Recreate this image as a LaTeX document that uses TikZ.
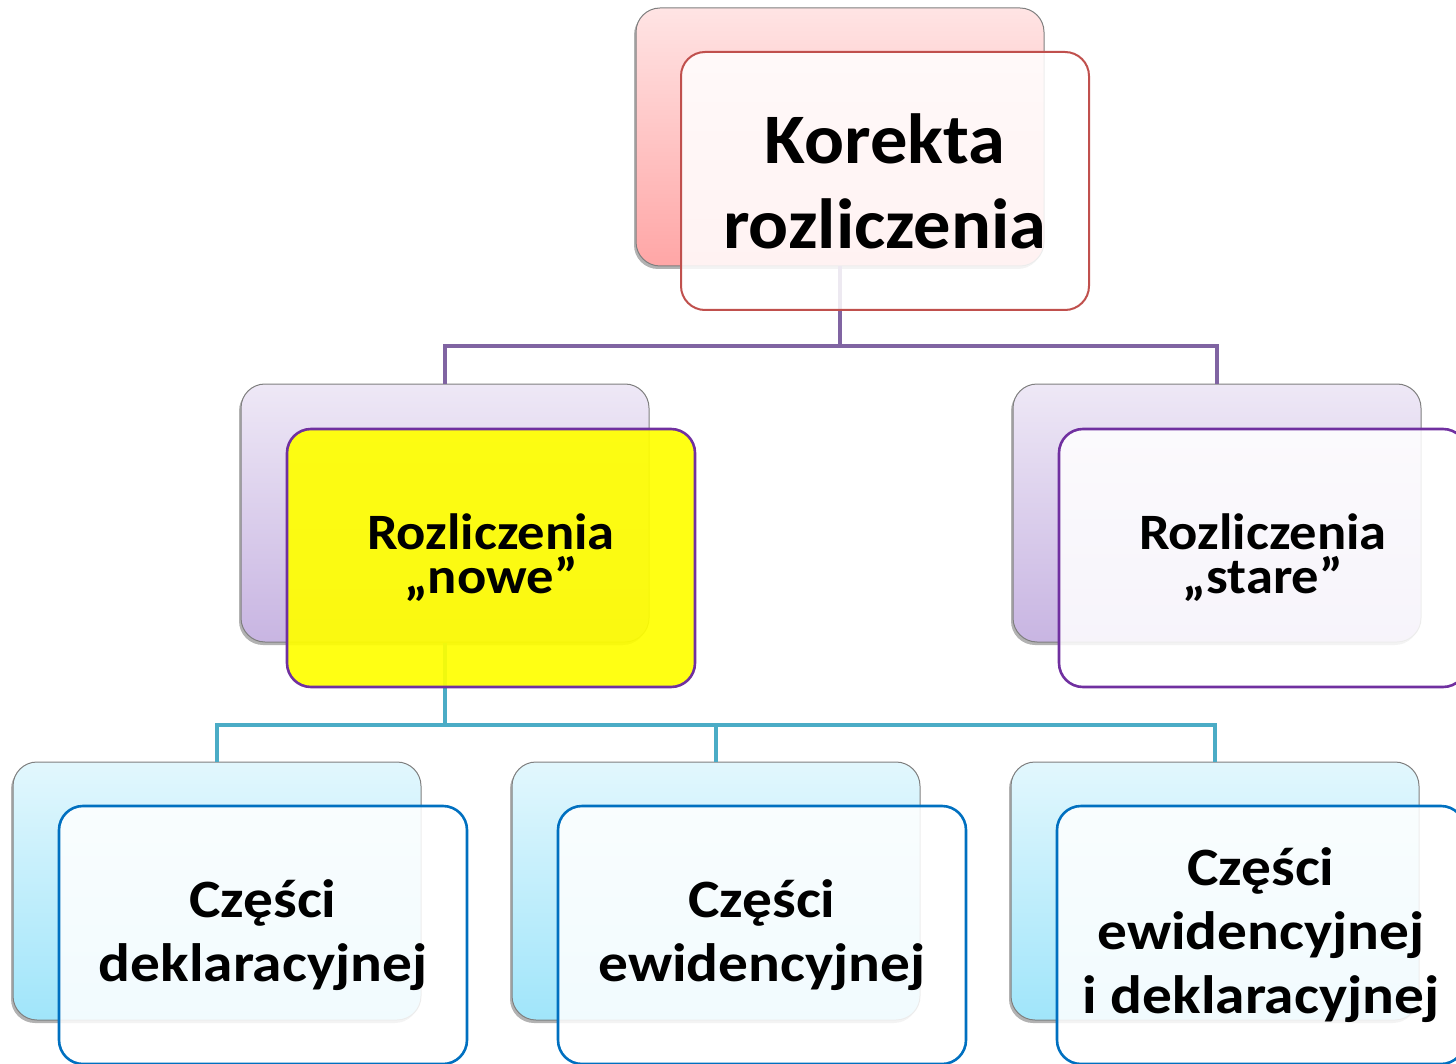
\documentclass[tikz,border=0pt]{standalone}
\usepackage{fontspec}
\setmainfont{Carlito}
\newfontfamily\stretchA[FakeStretch=1.05]{Carlito}
\newfontfamily\stretchB[FakeStretch=1.07]{Carlito}
\newfontfamily\stretchC[FakeStretch=1.10]{Carlito}
\usetikzlibrary{shadows}
\definecolor{redline}{HTML}{C0504D}
\definecolor{purpline}{HTML}{8064A2}
\definecolor{violetline}{HTML}{7030A0}
\definecolor{tealline}{HTML}{4BACC6}
\definecolor{blueline}{HTML}{0070C0}
\definecolor{pinktop}{HTML}{FFE4E4}
\definecolor{pinkbot}{HTML}{FFA6A6}
\definecolor{lavtop}{HTML}{EEE8F6}
\definecolor{lavbot}{HTML}{C8B5E2}
\definecolor{cyantop}{HTML}{E2F7FD}
\definecolor{cyanbot}{HTML}{A0E5FA}
\definecolor{boxgray}{HTML}{7F7F7F}
\definecolor{brightyellow}{HTML}{FFFF00}
\begin{document}
\begin{tikzpicture}[x=1pt,y=-1pt,
  backbox/.style={rectangle, rounded corners=24pt, minimum width=408pt, minimum height=258pt,
    inner sep=0pt, draw=boxgray, line width=1pt,
    drop shadow={shadow xshift=-2pt, shadow yshift=-3pt, opacity=0.3, fill=black}},
  frontbox/.style={rectangle, rounded corners=24pt, minimum width=408pt, minimum height=258pt,
    inner sep=0pt, line width=2.6pt, fill=white, fill opacity=0.86, text opacity=1,
    align=center},
  conn/.style={line width=4pt},
  bigfont/.style={font=\stretchA\fontsize{71}{85}\selectfont\bfseries},
  midfont/.style={font=\stretchB\fontsize{51}{44}\selectfont\bfseries},
  smallfont/.style={font=\stretchC\fontsize{54}{64}\selectfont\bfseries}
]
\useasboundingbox (0,0) rectangle (1456,1064);
\clip (0,0) rectangle (1456,1064);

% back boxes
\node[backbox, top color=pinktop, bottom color=pinkbot] (kb) at (840,137) {};
\node[backbox, top color=lavtop, bottom color=lavbot] (nb) at (445,513) {};
\node[backbox, top color=lavtop, bottom color=lavbot] (sb) at (1217,513) {};
\node[backbox, top color=cyantop, bottom color=cyanbot] (c1b) at (217,891) {};
\node[backbox, top color=cyantop, bottom color=cyanbot] (c2b) at (716,891) {};
\node[backbox, top color=cyantop, bottom color=cyanbot] (c3b) at (1215,891) {};

% connectors
\draw[conn, purpline] (kb.south) -- ++(0,80) coordinate (j1);
\draw[conn, purpline] (j1) -| (nb.north);
\draw[conn, purpline] (j1) -| (sb.north);
\draw[conn, tealline] (nb.south) -- ++(0,82) coordinate (j2);
\draw[conn, tealline] (j2) -| (c1b.north);
\draw[conn, tealline] (j2) -| (c2b.north);
\draw[conn, tealline] (j2) -| (c3b.north);

% front boxes
\node[frontbox, draw=redline, line width=2pt, bigfont] (k) at (885,181) {Korekta\\rozliczenia};
\node[frontbox, draw=violetline, fill=brightyellow, fill opacity=0.92, midfont] (n) at (491,558) {Rozliczenia\\„nowe”};
\node[frontbox, draw=violetline, midfont] (s) at (1263,558) {Rozliczenia\\„stare”};
\node[frontbox, draw=blueline, smallfont] (c1) at (263,935) {Części\\deklaracyjnej};
\node[frontbox, draw=blueline, smallfont] (c2) at (762,935) {Części\\ewidencyjnej};
\node[frontbox, draw=blueline, smallfont] (c3) at (1261,935) {Części\\ewidencyjnej\\i deklaracyjnej};
\end{tikzpicture}
\end{document}
